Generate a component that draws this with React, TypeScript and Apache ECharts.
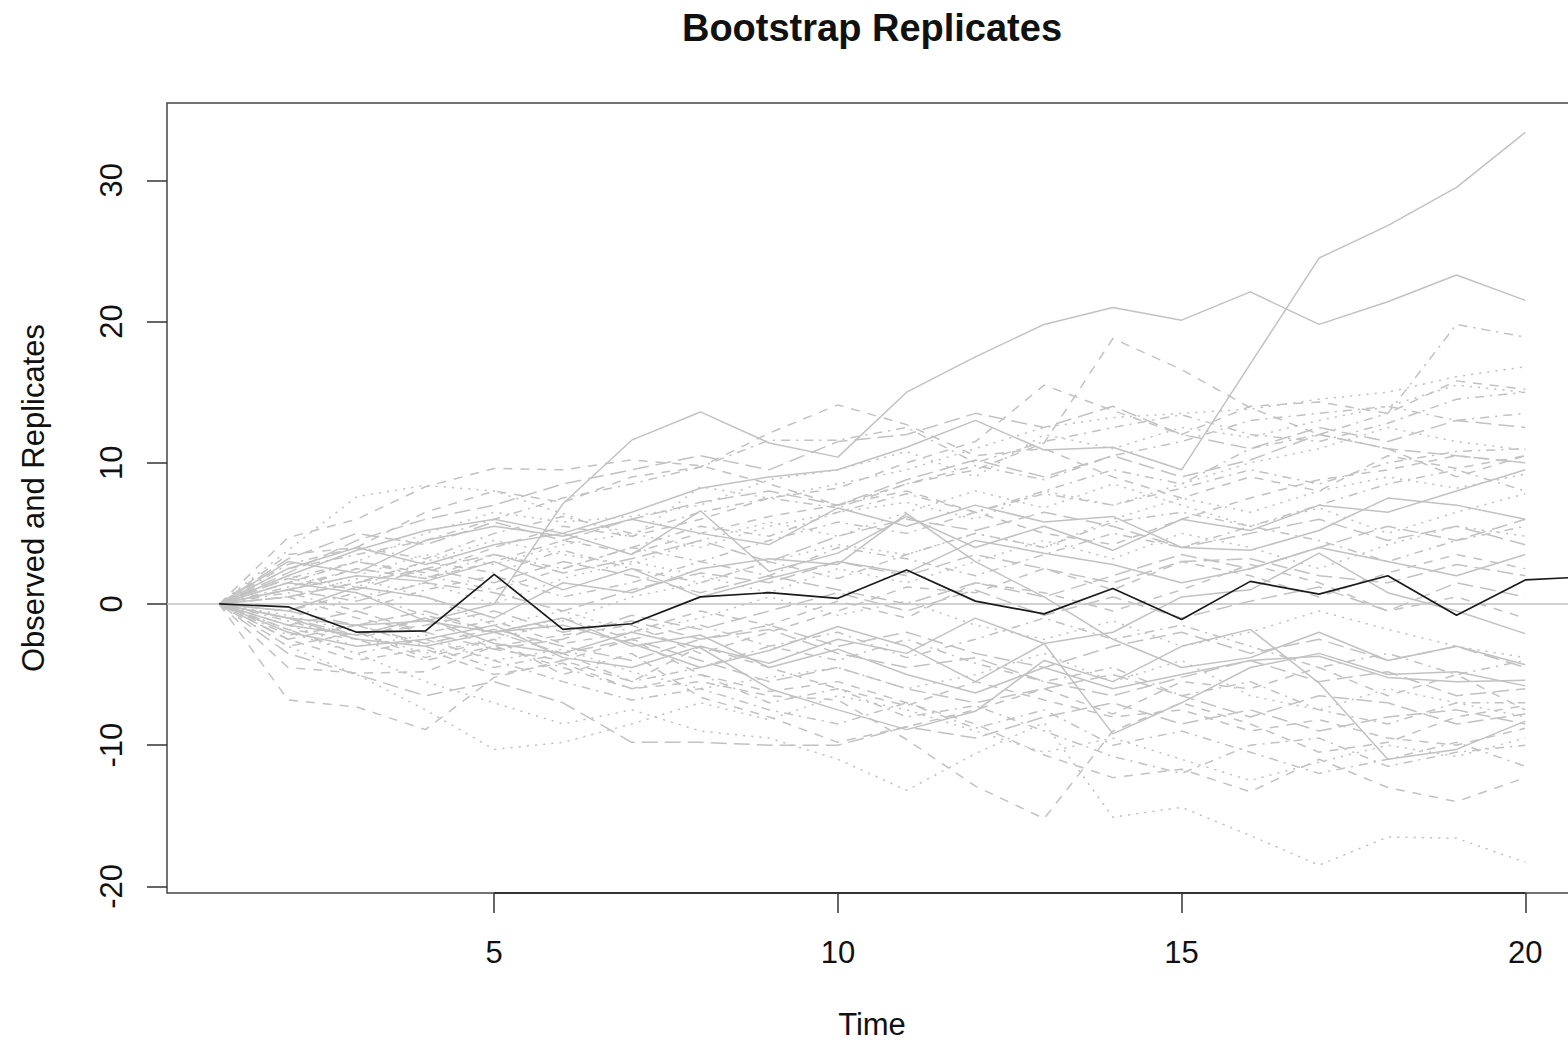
import React, { useEffect, useRef } from "react";
import * as echarts from "echarts";

const TITLE = "Bootstrap Replicates";
const X_NAME = "Time";
const Y_NAME = "Observed and Replicates";

const X_TICKS = [5, 10, 15, 20];
const Y_TICKS = [-20, -10, 0, 10, 20, 30];
const X_MIN = 0.24;
const X_MAX = 21.8;
const Y_MIN = -20.47;
const Y_MAX = 35.48;

const TIME = [1, 2, 3, 4, 5, 6, 7, 8, 9, 10, 11, 12, 13, 14, 15, 16, 17, 18, 19, 20, 21];

const OBSERVED = [0, -0.2, -2.0, -1.9, 2.1, -1.8, -1.4, 0.5, 0.8, 0.4, 2.4, 0.2, -0.7, 1.1, -1.1, 1.6, 0.7, 2.0, -0.8, 1.7, 1.95];

// Replicates, in plotting order; line type cycles solid, dashed, dotted, dotdash, longdash
const REPLICATES: number[][] = [
  [0, 2.0, 3.8, 5.2, 6.0, 5.0, 6.5, 8.2, 9.0, 9.5, 11.1, 13.0, 10.9, 11.1, 9.5, 17.0, 24.5, 26.8, 29.5, 33.4],
  [0, 1.0, 2.5, 1.8, 3.0, 4.5, 3.6, 5.0, 6.2, 7.0, 8.5, 9.5, 11.4, 18.8, 16.6, 13.9, 12.0, 11.0, 9.0, 10.5],
  [0, -2.0, -3.5, -5.5, -7.0, -8.5, -7.5, -9.0, -9.5, -11.0, -13.2, -10.6, -8.4, -15.1, -14.4, -16.4, -18.5, -16.5, -16.6, -18.3],
  [0, 1.2, 2.5, 1.8, 3.5, 2.5, 4.0, 5.5, 4.8, 6.5, 7.8, 6.5, 8.0, 9.5, 8.5, 11.0, 12.0, 13.5, 19.8, 18.9],
  [0, 2.2, 4.5, 6.0, 7.0, 8.5, 9.5, 10.5, 9.5, 11.5, 12.0, 13.5, 12.5, 14.0, 12.0, 11.0, 12.5, 11.5, 13.0, 12.5],

  [0, -1.0, -1.5, -1.2, 0.0, 7.1, 11.6, 13.6, 11.4, 10.4, 15.0, 17.5, 19.8, 21.0, 20.1, 22.1, 19.8, 21.4, 23.3, 21.5],
  [0, -6.8, -7.3, -8.9, -5.2, -4.0, -5.5, -3.0, -4.5, -6.0, -7.2, -5.5, -6.8, -8.0, -7.5, -9.0, -8.2, -9.5, -10.0, -8.8],
  [0, -3.0, -5.0, -7.5, -10.3, -9.8, -8.5, -7.0, -8.2, -6.5, -7.5, -9.0, -10.5, -9.5, -11.0, -12.5, -11.2, -10.0, -10.8, -9.5],
  [0, 2.5, 3.5, 4.5, 6.0, 7.5, 8.5, 9.7, 11.6, 11.6, 12.5, 10.0, 11.5, 12.5, 13.4, 12.0, 11.5, 12.8, 14.5, 15.0],
  [0, -3.5, -5.0, -6.5, -5.5, -7.0, -9.8, -9.8, -10.0, -10.0, -8.7, -9.5, -8.0, -7.0, -8.5, -7.5, -9.0, -8.0, -7.5, -8.5],

  [0, -1.5, -2.2, -1.0, -2.8, -3.5, -2.0, -3.1, -6.0, -7.5, -8.9, -7.6, -4.0, -5.5, -3.0, -1.8, -5.6, -11.0, -10.3, -8.3],
  [0, -2.5, -4.0, -3.2, -5.0, -4.2, -6.0, -5.5, -6.5, -6.8, -9.6, -12.9, -15.2, -9.0, -7.0, -8.5, -10.5, -9.8, -8.0, -7.2],
  [0, 3.8, 7.6, 8.4, 8.0, 6.4, 4.7, 8.3, 7.5, 8.5, 9.5, 11.0, 12.5, 13.2, 13.5, 13.8, 14.5, 15.0, 16.1, 16.8],
  [0, -1.2, -2.5, -4.0, -3.0, -4.5, -6.0, -5.0, -7.0, -6.0, -8.0, -7.2, -9.0, -10.8, -12.0, -10.0, -9.5, -11.5, -10.5, -10.0],
  [0, 1.0, 0.2, 1.5, 0.8, -0.5, 1.0, 2.2, 1.5, 3.0, 2.0, 3.5, 2.5, 1.5, 3.0, 3.2, 2.0, 1.5, 2.8, 2.0],

  [0, 1.5, 0.8, -1.2, -2.0, -1.0, -3.0, -2.2, -4.5, -3.2, -5.0, -6.3, -4.5, -6.0, -5.0, -4.0, -3.7, -5.2, -5.5, -5.4],
  [0, 3.5, 4.0, 6.5, 8.0, 7.2, 9.0, 9.7, 12.1, 14.1, 12.7, 10.5, 11.0, 9.0, 7.5, 9.0, 8.0, 10.5, 9.6, 10.5],
  [0, 1.0, 2.0, 3.5, 2.8, 4.2, 5.0, 4.0, 5.5, 6.5, 7.2, 6.0, 8.0, 7.0, 8.5, 10.0, 11.0, 12.5, 11.5, 10.9],
  [0, 0.8, -0.5, 1.0, 2.0, 0.5, 1.5, 3.0, 2.0, 4.0, 3.2, 2.0, 3.5, 5.0, 4.0, 5.5, 4.5, 3.0, 4.5, 5.5],
  [0, -1.0, -2.2, -1.5, -0.5, -2.0, -1.2, -2.5, -1.8, -3.5, -4.5, -3.8, -5.5, -6.5, -5.2, -4.0, -5.5, -4.8, -6.5, -6.0],

  [0, 2.5, 4.0, 2.8, 4.2, 5.0, 3.5, 6.6, 2.3, 3.6, 6.2, 4.0, 5.5, 3.8, 6.0, 5.2, 7.0, 6.5, 8.0, 9.5],
  [0, 4.7, 6.0, 8.3, 9.6, 9.5, 10.2, 9.8, 8.5, 7.0, 8.0, 6.5, 5.0, 4.2, 6.0, 7.5, 8.8, 9.5, 10.5, 10.0],
  [0, -1.0, 0.5, 1.5, 0.0, 1.8, 3.0, 2.0, 0.8, 2.5, 1.5, 3.0, 4.5, 3.2, 5.0, 4.0, 2.5, 4.2, 5.5, 4.8],
  [0, -2.2, -1.5, -3.0, -4.5, -3.5, -5.5, -4.5, -3.0, -4.0, -2.5, -4.2, -5.5, -4.5, -6.5, -5.5, -7.5, -8.5, -7.0, -7.0],
  [0, 3.2, 5.0, 4.2, 5.8, 4.5, 6.0, 7.2, 8.0, 7.0, 8.8, 10.2, 9.0, 10.5, 9.0, 10.2, 12.0, 11.0, 10.5, 10.0],

  [0, -2.0, -3.0, -2.5, -1.5, -3.8, -4.5, -3.0, -4.2, -2.5, -3.5, -1.0, -2.8, -2.0, 0.5, 1.0, 3.6, 0.8, -0.5, -2.1],
  [0, -4.5, -4.9, -4.8, -3.0, -2.2, -1.5, -3.5, -2.0, -0.5, 1.2, 0.8, 2.5, 1.0, 3.0, 2.0, 0.5, 2.2, 3.5, 2.5],
  [0, -1.5, -3.0, -2.2, -4.0, -3.2, -4.8, -6.0, -5.2, -4.5, -6.0, -5.0, -3.5, -5.5, -4.0, -6.5, -7.5, -6.0, -7.0, -8.0],
  [0, 1.8, 3.0, 2.0, 1.0, 2.5, 4.0, 3.0, 4.5, 5.8, 5.0, 6.5, 7.8, 7.0, 8.2, 9.5, 8.5, 10.0, 10.8, 11.0],
  [0, -2.5, -1.5, -2.8, -1.8, -3.0, -4.0, -2.5, -1.5, -3.0, -2.0, -3.5, -4.5, -3.0, -2.0, -3.5, -2.5, -4.0, -3.0, -4.5],

  [0, 1.0, 2.0, 1.6, 3.0, 1.0, 2.5, 0.5, 1.8, 3.0, 2.2, 4.5, 3.6, 2.8, 1.5, 2.5, 4.0, 3.0, 2.0, 3.5],
  [0, -1.8, -2.5, -1.0, -3.2, -4.0, -2.5, -5.0, -6.2, -5.5, -7.0, -8.5, -10.7, -12.3, -11.7, -13.3, -11.0, -13.0, -14.0, -12.3],
  [0, 2.0, 1.2, 3.0, 4.5, 3.5, 2.8, 4.5, 5.8, 4.8, 6.5, 8.0, 6.8, 8.5, 7.0, 5.5, 6.8, 5.0, 6.5, 7.8],
  [0, -0.5, 0.8, -0.8, -2.0, -1.0, -2.5, -1.5, -3.0, -2.0, -3.8, -2.5, -1.0, -2.5, -1.5, -3.0, -4.5, -3.5, -5.0, -4.0],
  [0, 0.5, 1.5, 2.5, 1.5, 3.0, 2.0, 0.8, 2.0, 1.0, 0.0, 1.5, 0.5, 2.0, 3.5, 2.5, 4.0, 5.5, 4.5, 6.0],

  [0, -1.0, -2.5, -3.0, -2.0, -1.5, -2.8, -4.5, -3.3, -1.6, -3.0, -5.5, -2.8, -9.2, -7.0, -4.5, -3.5, -5.0, -4.8, -5.8],
  [0, 1.5, 3.0, 2.2, 4.0, 5.5, 4.8, 6.0, 7.5, 8.2, 10.0, 11.5, 15.5, 13.7, 12.0, 14.0, 14.3, 13.5, 15.8, 15.2],
  [0, 0.5, 1.8, 0.5, -1.5, -0.5, -2.0, -1.0, 0.5, -0.8, 0.2, -1.5, -2.5, -1.2, -3.0, -2.0, -0.5, -1.8, -3.0, -3.8],
  [0, 0.5, 1.5, 3.0, 2.2, 3.8, 2.5, 1.5, 3.0, 1.8, 3.5, 5.0, 4.0, 5.8, 6.5, 5.5, 7.0, 8.5, 9.5, 8.0],
  [0, -0.5, -1.5, -0.5, -2.0, -3.5, -2.5, -4.0, -5.5, -4.5, -6.0, -7.0, -6.0, -5.0, -6.5, -8.0, -6.5, -7.0, -8.5, -7.8],

  [0, 3.0, 2.2, 4.5, 5.5, 4.8, 6.0, 5.0, 4.2, 6.8, 5.5, 7.0, 5.8, 6.2, 4.0, 3.8, 5.2, 7.5, 7.0, 6.0],
  [0, 0.5, -1.0, -2.0, -1.2, -2.8, -2.0, -0.5, -1.5, 0.2, -1.0, 1.5, 0.8, -0.5, 1.0, 2.8, 1.5, -0.5, 0.5, -1.0],
  [0, -0.8, -2.0, -3.5, -2.5, -1.2, 0.5, 1.5, 3.0, 4.2, 3.5, 5.0, 4.0, 6.0, 7.5, 6.5, 8.0, 9.0, 8.2, 9.2],
  [0, -1.8, -3.5, -2.5, -4.0, -5.5, -6.8, -6.0, -7.5, -8.5, -7.0, -8.8, -7.5, -10.0, -9.0, -10.5, -12.0, -11.0, -9.8, -11.5],
  [0, 1.8, 1.0, 2.5, 3.5, 2.2, 3.2, 4.5, 3.0, 4.8, 6.0, 5.2, 6.5, 5.5, 4.0, 5.0, 6.0, 4.5, 5.5, 4.2],

  [0, -0.5, 1.2, 0.5, -1.0, 1.5, 0.8, 2.5, 3.2, 2.8, 6.4, 3.0, 0.5, -2.5, -4.5, -3.8, -2.0, -4.0, -3.0, -4.3],
  [0, -3.0, -2.0, -3.8, -2.5, -5.0, -3.5, -6.6, -8.0, -9.8, -8.7, -7.5, -6.0, -7.8, -5.5, -6.0, -4.5, -6.5, -5.0, -7.5],
  [0, 1.5, 3.0, 5.0, 6.5, 5.8, 6.2, 7.0, 8.8, 9.5, 10.8, 9.0, 12.0, 11.0, 12.5, 11.8, 13.0, 14.0, 15.5, 15.0],
  [0, 2.8, 4.0, 3.2, 5.0, 6.2, 5.0, 6.5, 7.5, 6.8, 8.5, 9.8, 8.8, 10.5, 11.5, 13.0, 13.5, 14.0, 13.0, 13.5],
  [0, -1.5, -0.5, -2.0, -3.2, -2.5, -0.8, -1.8, -0.5, 0.8, -0.5, 1.0, -0.8, 0.5, -1.0, 0.2, 1.2, -0.5, 1.5, 0.5],
];

const GREY = "#c2c2c2";
const LTY: any[] = ["solid", [9, 8], [2.2, 6], [2.2, 6, 9, 6], [16, 7]];
const FONT = "'Liberation Sans', Arial, Helvetica, sans-serif";

// The plotting region runs past the right edge of the picture, as in the reference
const VIEW_W = 1568;
const VIEW_H = 1042;
const CHART_W = 1649;

export default function App() {
  const ref = useRef<HTMLDivElement>(null);

  useEffect(() => {
    if (!ref.current) return;
    const chart = echarts.init(ref.current, undefined, { renderer: "svg" });

    const replicateSeries = REPLICATES.map((vals, i) => ({
      type: "line",
      name: "rep" + (i + 1),
      data: vals.map((v, j) => [TIME[j], v]),
      symbol: "none",
      silent: true,
      z: 2,
      lineStyle: { color: GREY, width: 1.5, type: LTY[i % 5] },
    }));

    const option: any = {
      animation: false,
      backgroundColor: "#ffffff",
      textStyle: { fontFamily: FONT },
      graphic: [
        {
          type: "text",
          x: 872,
          y: 28,
          style: {
            text: TITLE,
            font: "bold 38px " + FONT,
            fill: "#111",
            align: "center",
            verticalAlign: "middle",
          },
        },
      ],
      grid: {
        left: 167,
        top: 103,
        right: 0,
        bottom: 149,
        containLabel: false,
        outerBoundsMode: "none",
        show: true,
        borderColor: "#444",
        borderWidth: 1.5,
        backgroundColor: "transparent",
      },
      xAxis: {
        type: "value",
        min: X_MIN,
        max: X_MAX,
        name: X_NAME,
        nameLocation: "middle",
        nameGap: 116,
        nameTextStyle: {
          fontSize: 31,
          lineHeight: 31,
          color: "#111",
          fontFamily: FONT,
          padding: [0, 72, 0, 0],
        },
        axisLine: { show: false, onZero: false },
        axisTick: {
          show: true,
          length: 20,
          customValues: X_TICKS,
          lineStyle: { color: "#333", width: 1.5 },
        },
        axisLabel: {
          customValues: X_TICKS,
          fontSize: 31,
          color: "#111",
          margin: 44,
          fontFamily: FONT,
        },
        splitLine: { show: false },
      },
      yAxis: {
        type: "value",
        min: Y_MIN,
        max: Y_MAX,
        name: Y_NAME,
        nameLocation: "middle",
        nameGap: 118,
        nameRotate: 90,
        nameTextStyle: { fontSize: 31, color: "#111", fontFamily: FONT },
        axisLine: { show: false, onZero: false },
        axisTick: {
          show: true,
          length: 20,
          customValues: Y_TICKS,
          lineStyle: { color: "#333", width: 1.5 },
        },
        axisLabel: {
          customValues: Y_TICKS,
          rotate: 90,
          fontSize: 31,
          color: "#111",
          margin: 40,
          fontFamily: FONT,
        },
        splitLine: { show: false },
      },
      series: [
        ...replicateSeries,
        {
          type: "line",
          name: "zero",
          data: [
            [X_MIN, 0],
            [X_MAX, 0],
          ],
          symbol: "none",
          silent: true,
          z: 3,
          lineStyle: { color: "#c2c2c2", width: 1.5 },
        },
        {
          type: "line",
          name: "Observed",
          data: OBSERVED.map((v, j) => [TIME[j], v]),
          symbol: "none",
          silent: true,
          z: 5,
          lineStyle: { color: "#1a1a1a", width: 1.7 },
        },
        {
          type: "line",
          name: "x axis",
          data: [
            [X_TICKS[0], Y_MIN],
            [X_TICKS[X_TICKS.length - 1], Y_MIN],
          ],
          symbol: "none",
          silent: true,
          clip: false,
          z: 6,
          lineStyle: { color: "#333", width: 2.2 },
        },
      ],
    };

    chart.setOption(option);
    return () => chart.dispose();
  }, []);

  return (
    <div
      style={{
        position: "absolute",
        left: 0,
        top: 0,
        width: VIEW_W,
        height: VIEW_H,
        overflow: "hidden",
        background: "#fff",
      }}
    >
      <div ref={ref} style={{ width: CHART_W, height: VIEW_H }} />
    </div>
  );
}
